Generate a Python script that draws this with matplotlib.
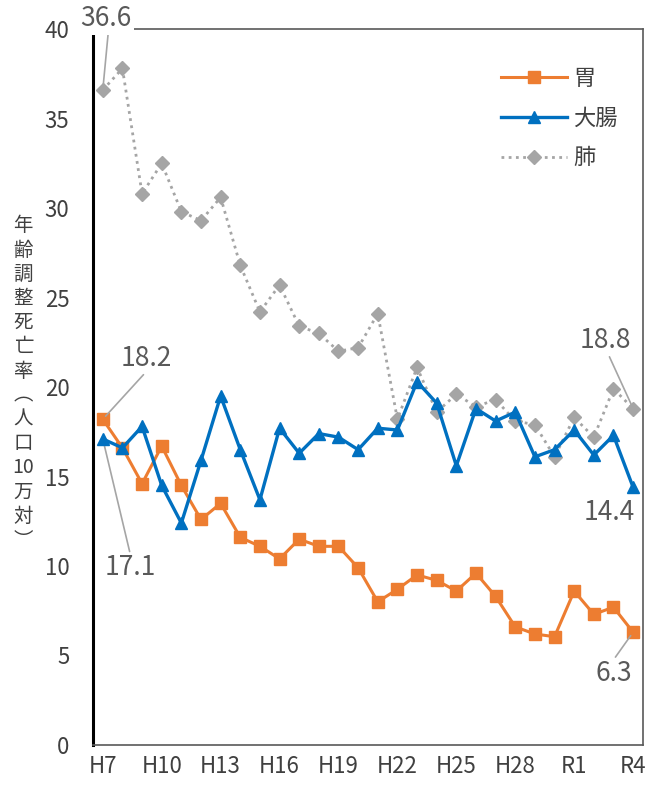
import numpy as np
import matplotlib
matplotlib.use("Agg")
import matplotlib.pyplot as plt

plt.rcParams['font.family'] = ['Noto Sans CJK JP', 'DejaVu Sans']

# 年度 H7 (1995) .. R4 (2022)
years = ["H7", "H8", "H9", "H10", "H11", "H12", "H13", "H14", "H15", "H16",
         "H17", "H18", "H19", "H20", "H21", "H22", "H23", "H24", "H25", "H26",
         "H27", "H28", "H29", "H30", "R1", "R2", "R3", "R4"]
tick_labels = ["H7", "H10", "H13", "H16", "H19", "H22", "H25", "H28", "R1", "R4"]

stomach = [18.2, 16.6, 14.6, 16.7, 14.5, 12.6, 13.5, 11.6, 11.1, 10.4,
           11.5, 11.1, 11.1, 9.9, 8.0, 8.7, 9.5, 9.2, 8.6, 9.6,
           8.3, 6.6, 6.2, 6.05, 8.6, 7.3, 7.7, 6.3]
colorectal = [17.1, 16.6, 17.8, 14.5, 12.4, 15.9, 19.5, 16.5, 13.7, 17.7,
              16.3, 17.4, 17.2, 16.5, 17.7, 17.6, 20.3, 19.1, 15.6, 18.8,
              18.1, 18.6, 16.1, 16.5, 17.6, 16.2, 17.3, 14.4]
lung = [36.6, 37.8, 30.8, 32.5, 29.8, 29.3, 30.6, 26.8, 24.2, 25.7,
        23.4, 23.0, 22.0, 22.2, 24.1, 18.2, 21.1, 18.6, 19.6, 18.9,
        19.3, 18.1, 17.9, 16.1, 18.3, 17.2, 19.9, 18.8]

ORANGE = '#ED7D31'
BLUE = '#0070C0'
GRAY = '#A5A5A5'
TEXT = '#595959'

x = np.arange(len(years))

fig = plt.figure(figsize=(6.47, 7.87), dpi=100)
ax = fig.add_axes([0.1437, 0.0534, 0.85, 0.9096])

ax.plot(x, stomach, color=ORANGE, lw=2.2, marker='s', ms=8.5,
        label='胃', zorder=3)
ax.plot(x, colorectal, color=BLUE, lw=2.4, marker='^', ms=9,
        label='大腸', zorder=4)
ax.plot(x, lung, color=GRAY, lw=2.0, ls=(0, (1, 1.6)), marker='D', ms=7.5,
        label='肺', zorder=2)

ax.set_xlim(-0.5, len(years) - 0.5)
ax.set_ylim(0, 40)
ax.set_yticks(np.arange(0, 41, 5))
ax.set_xticks([years.index(t) for t in tick_labels])
ax.set_xticklabels(tick_labels)
ax.tick_params(axis='both', length=0, labelsize=16, colors='#404040')
ax.tick_params(axis='y', pad=17)
ax.tick_params(axis='x', pad=7)

for side in ('top', 'right', 'bottom'):
    ax.spines[side].set_color(TEXT)
    ax.spines[side].set_linewidth(1.2)
ax.spines['left'].set_color('black')
ax.spines['left'].set_linewidth(2.2)

# 縦書きの軸ラベル
ylabel = "\n".join(["年", "齢", "調", "整", "死", "亡", "率", "︵",
                    "人", "口", "10", "万", "対", "︶"])
fig.text(0.036, 0.513, ylabel, ha='center', va='center', fontsize=14,
         color='#404040', linespacing=1.2)

# 最初と最後の値
line_kw = dict(arrowstyle='-', color=GRAY, lw=1.2, shrinkA=0, shrinkB=3)
box = dict(facecolor='white', edgecolor='none', pad=2)
fs = 19
ax.annotate(f"{lung[0]}", xy=(0, lung[0]), xytext=(0.15, 40.6),
            ha='center', va='center', fontsize=fs, color=TEXT,
            bbox=box, annotation_clip=False,
            arrowprops=dict(line_kw, relpos=(0.55, 0.0)))
ax.annotate(f"{stomach[0]}", xy=(0, stomach[0]), xytext=(2.2, 21.6),
            ha='center', va='center', fontsize=fs, color=TEXT,
            arrowprops=dict(line_kw, relpos=(0.5, 0.0)))
ax.annotate(f"{colorectal[0]}", xy=(0, colorectal[0]), xytext=(1.4, 9.9),
            ha='center', va='center', fontsize=fs, color=TEXT,
            arrowprops=dict(line_kw, relpos=(0.5, 1.0)))
ax.annotate(f"{lung[-1]}", xy=(27, lung[-1]), xytext=(25.6, 22.6),
            ha='center', va='center', fontsize=fs, color=TEXT,
            arrowprops=dict(line_kw, relpos=(0.55, 0.0)))
ax.text(25.8, 13.0, f"{colorectal[-1]}", ha='center', va='center',
        fontsize=fs, color=TEXT)
ax.annotate(f"{stomach[-1]}", xy=(27, stomach[-1]), xytext=(26.0, 4.0),
            ha='center', va='center', fontsize=fs, color=TEXT,
            arrowprops=dict(line_kw, relpos=(0.5, 1.0)))

leg = ax.legend(loc='upper right', bbox_to_anchor=(0.99, 0.975),
                frameon=False, fontsize=16, handlelength=3.0,
                handletextpad=0.25, labelspacing=0.75)
for t in leg.get_texts():
    t.set_color('#404040')

fig.savefig('out.png', dpi=100)
